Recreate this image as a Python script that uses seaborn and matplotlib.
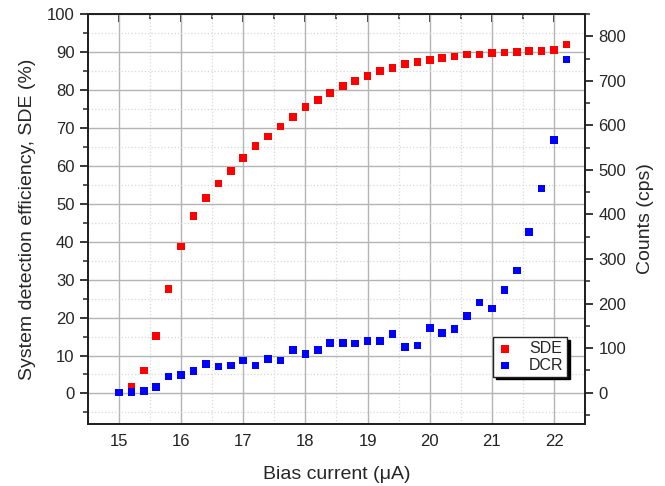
import numpy as np
import pandas as pd
import matplotlib
matplotlib.use("Agg")
import matplotlib.pyplot as plt
import seaborn as sns
from matplotlib.ticker import MultipleLocator

# Bias current (uA)
bias = [15.0, 15.2, 15.4, 15.6, 15.8, 16.0, 16.2, 16.4, 16.6, 16.8,
        17.0, 17.2, 17.4, 17.6, 17.8, 18.0, 18.2, 18.4, 18.6, 18.8,
        19.0, 19.2, 19.4, 19.6, 19.8, 20.0, 20.2, 20.4, 20.6, 20.8,
        21.0, 21.2, 21.4, 21.6, 21.8, 22.0, 22.2]

# System detection efficiency (%)
sde = [0.3, 1.8, 6.0, 15.1, 27.5, 38.7, 46.8, 51.6, 55.3, 58.6,
       62.0, 65.2, 67.7, 70.4, 72.9, 75.5, 77.3, 79.2, 81.0, 82.3,
       83.7, 85.0, 85.8, 86.8, 87.4, 87.9, 88.4, 88.8, 89.3, 89.3,
       89.7, 89.9, 90.0, 90.2, 90.3, 90.6, 92.0]

# Dark count rate (cps)
dcr = [0, 2, 4, 13, 36, 39, 48, 64, 59, 61,
       72, 61, 76, 72, 96, 87, 96, 111, 112, 110,
       116, 116, 132, 103, 106, 145, 134, 143, 172, 202,
       189, 230, 274, 361, 458, 567, 748]

df = pd.DataFrame({"bias": bias, "SDE": sde, "DCR": dcr})

sns.set_style("white")
plt.rcParams["font.family"] = ["Liberation Sans", "DejaVu Sans"]

fig = plt.figure(figsize=(6.65, 4.86), dpi=100)
ax = fig.add_axes([0.132, 0.128, 0.748, 0.843])
ax2 = ax.twinx()

sns.scatterplot(data=df, x="bias", y="SDE", ax=ax, marker="s", s=30,
                color="#ff0000", edgecolor="none", label="SDE", legend=False, zorder=3)
sns.scatterplot(data=df, x="bias", y="DCR", ax=ax2, marker="s", s=30,
                color="#0000ff", edgecolor="none", label="DCR", legend=False, zorder=3)

ax.set_xlim(14.5, 22.5)
ax.set_ylim(-8, 100)
ax2.set_ylim(-70, 850)

ax.xaxis.set_major_locator(MultipleLocator(1))
ax.xaxis.set_minor_locator(MultipleLocator(0.5))
ax.yaxis.set_major_locator(MultipleLocator(10))
ax.yaxis.set_minor_locator(MultipleLocator(5))
ax2.yaxis.set_major_locator(MultipleLocator(100))
ax2.yaxis.set_minor_locator(MultipleLocator(50))

ax.grid(which="major", color="#b4b4b4", linewidth=1.0, linestyle="-")
ax.grid(which="minor", color="#d8d8d8", linewidth=0.9, linestyle=":")
ax.set_axisbelow(True)

for a in (ax, ax2):
    for sp in a.spines.values():
        sp.set_color("#222222")
        sp.set_linewidth(1.4)

# bottom ticks point out, top ticks point in
ax.tick_params(axis="x", which="both", direction="out", labelsize=12, pad=1.5,
               colors="#222222", labelcolor="#222222")
ax.tick_params(axis="x", which="major", length=6, width=1.3)
ax.tick_params(axis="x", which="minor", length=3.5, width=1.1)
top = ax.secondary_xaxis("top")
top.xaxis.set_major_locator(MultipleLocator(1))
top.xaxis.set_minor_locator(MultipleLocator(0.5))
top.tick_params(axis="x", which="both", direction="in", labeltop=False, colors="#222222")
top.tick_params(axis="x", which="major", length=6, width=1.3)
top.tick_params(axis="x", which="minor", length=3.5, width=1.1)
top.spines["top"].set_linewidth(1.4)
top.spines["top"].set_color("#222222")

ax.tick_params(axis="y", which="major", direction="out", length=6, width=1.3, labelsize=12)
ax.tick_params(axis="y", which="minor", direction="out", length=3.5, width=1.1)
ax2.tick_params(axis="y", which="major", direction="out", length=6, width=1.3, labelsize=12)
ax2.tick_params(axis="y", which="minor", direction="out", length=3.5, width=1.1)

ax.set_xlabel("Bias current (\u03bcA)", fontsize=14, labelpad=12)
ax.set_ylabel("System detection efficiency, SDE (%)", fontsize=14, labelpad=8)
ax2.set_ylabel("Counts (cps)", fontsize=14, labelpad=8)

handles = ax.collections[:1] + ax2.collections[:1]
leg = ax2.legend(handles, ["SDE", "DCR"], loc="lower right",
                 bbox_to_anchor=(0.964, 0.115), borderaxespad=0, fontsize=11.5,
                 frameon=True, fancybox=False, edgecolor="#222222", handlelength=1.0,
                 handletextpad=1.0, borderpad=0.25, labelspacing=0.1,
                 markerscale=1.0, shadow={"color": "black", "alpha": 1.0})
leg.get_frame().set_linewidth(1.0)

fig.savefig("out.png", dpi=100)
